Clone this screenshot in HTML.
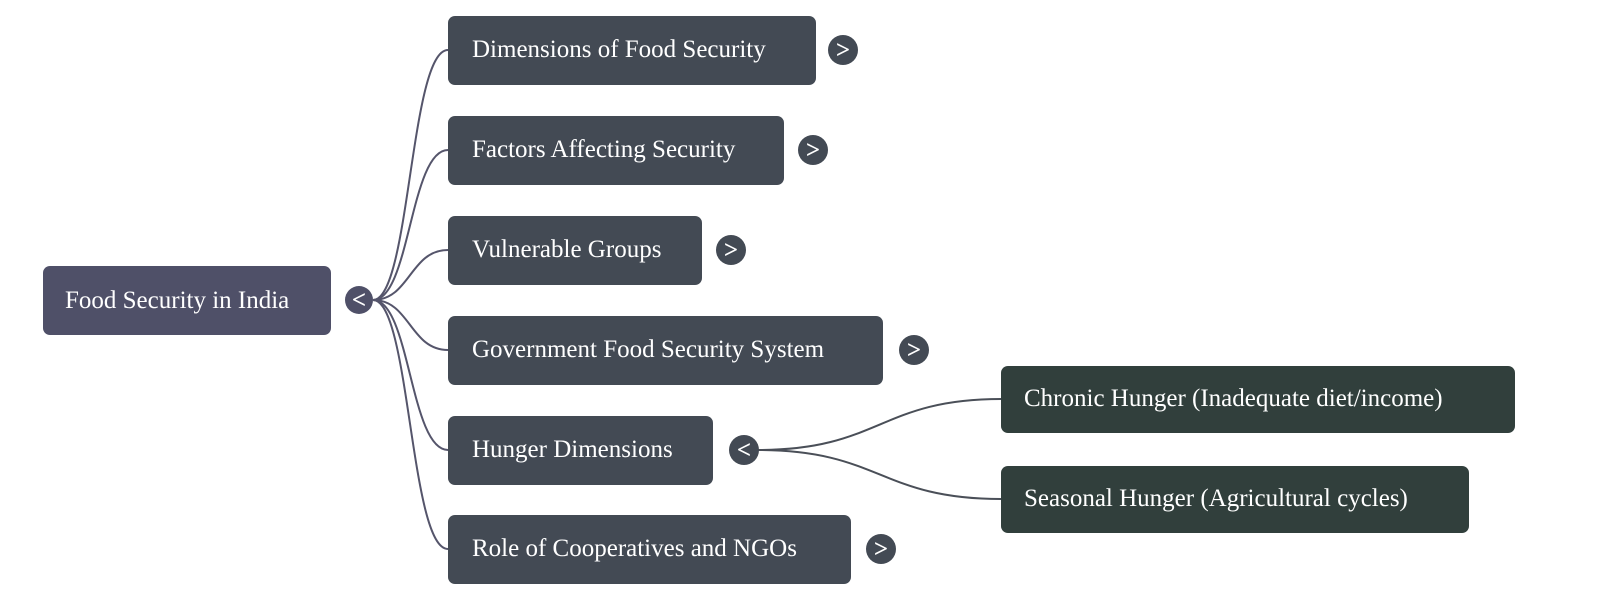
<!DOCTYPE html>
<html><head><meta charset="utf-8"><style>
body{margin:0;width:1600px;height:600px;background:#fff;overflow:hidden}
text{font-family:"Liberation Serif",serif;font-size:25px;fill:#fff}
</style></head><body>
<svg width="1600" height="600" xmlns="http://www.w3.org/2000/svg">
<g fill="none" stroke="#55556b" stroke-width="2">
<path d="M373 300 C410 300,410 50,448 50"/>
<path d="M373 300 C410 300,410 150,448 150"/>
<path d="M373 300 C410 300,410 250,448 250"/>
<path d="M373 300 C410 300,410 350,448 350"/>
<path d="M373 300 C410 300,410 450,448 450"/>
<path d="M373 300 C410 300,410 549,448 549"/>
<path d="M758 450 C880 450,880 399,1001 399" stroke="#4a4f58"/>
<path d="M758 450 C880 450,880 499,1001 499" stroke="#4a4f58"/>
</g>
<rect x="43" y="266" width="288" height="69" rx="7" fill="#4f5068"/>
<text x="65" y="308">Food Security in India</text>
<circle cx="359" cy="300" r="14" fill="#4f5068"/>
<g fill="#434a54">
<rect x="448" y="16" width="368" height="69" rx="7"/>
<rect x="448" y="116" width="336" height="69" rx="7"/>
<rect x="448" y="216" width="254" height="69" rx="7"/>
<rect x="448" y="316" width="435" height="69" rx="7"/>
<rect x="448" y="416" width="265" height="69" rx="7"/>
<rect x="448" y="515" width="403" height="69" rx="7"/>
<circle cx="843" cy="50" r="15"/>
<circle cx="813" cy="150" r="15"/>
<circle cx="731" cy="250" r="15"/>
<circle cx="914" cy="350" r="15"/>
<circle cx="744" cy="450" r="15"/>
<circle cx="881" cy="549" r="15"/>
</g>
<g fill="#313f3c">
<rect x="1001" y="366" width="514" height="67" rx="7"/>
<rect x="1001" y="466" width="468" height="67" rx="7"/>
</g>
<text x="472" y="57">Dimensions of Food Security</text>
<text x="472" y="157">Factors Affecting Security</text>
<text x="472" y="257">Vulnerable Groups</text>
<text x="472" y="357">Government Food Security System</text>
<text x="472" y="457">Hunger Dimensions</text>
<text x="472" y="556">Role of Cooperatives and NGOs</text>
<text x="1024" y="406">Chronic Hunger (Inadequate diet/income)</text>
<text x="1024" y="506">Seasonal Hunger (Agricultural cycles)</text>
<g style="font-family:'DejaVu Sans',sans-serif;font-size:22px;font-weight:bold" text-anchor="middle">
<text x="359" y="308">&lt;</text>
<text x="843" y="58">&gt;</text>
<text x="813" y="158">&gt;</text>
<text x="731" y="258">&gt;</text>
<text x="914" y="358">&gt;</text>
<text x="744" y="458">&lt;</text>
<text x="881" y="557">&gt;</text>
</g>
</svg>
</body></html>
